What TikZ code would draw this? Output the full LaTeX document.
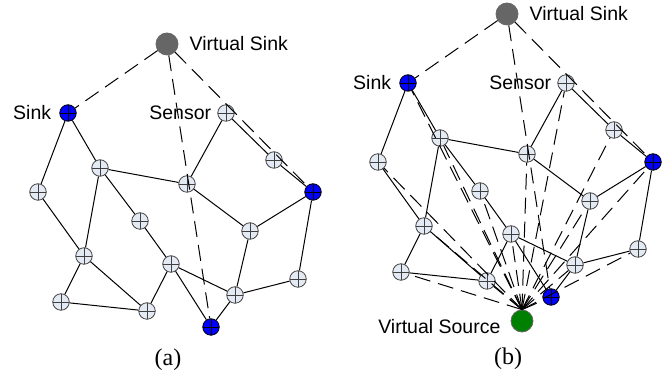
\documentclass[tikz,border=0pt]{standalone}
\usepackage{fontspec}
\setmainfont{Liberation Serif}
\setsansfont{Liberation Sans}
\usetikzlibrary{positioning}
\definecolor{nodefill}{RGB}{228,234,244}
\definecolor{sinkblue}{RGB}{0,0,255}
\definecolor{vsgray}{RGB}{102,102,102}
\definecolor{vsgreen}{RGB}{0,128,0}
\tikzset{
  plus/.style={path picture={\draw[line width=0.9pt]
      (path picture bounding box.north) -- (path picture bounding box.south)
      (path picture bounding box.west) -- (path picture bounding box.east);}},
  sensor/.style={circle,draw=black!75,fill=nodefill,line width=0.8pt,
    minimum size=16.5pt,inner sep=0pt,plus},
  sink/.style={sensor,fill=sinkblue,draw=black},
  virtual/.style={circle,draw=black!60,line width=0.8pt,minimum size=22pt,inner sep=0pt},
  link/.style={line width=1pt},
  vlink/.style={line width=1pt,dash pattern=on 16pt off 8pt},
  lbl/.style={font=\sffamily\fontsize{19.5}{22}\selectfont,inner sep=0pt},
  caption/.style={font=\fontsize{24}{26}\selectfont,inner sep=0pt}
}
\begin{document}
\begin{tikzpicture}[x=1pt,y=1pt]
  \useasboundingbox (0,0) rectangle (672,379);
  % two copies of the same network, (b) is shifted
  \foreach \p/\dx/\dy in {a/0/0,b/340/30}{
    \begin{scope}[shift={(\dx,\dy)},name prefix=\p-]
      \node[virtual,fill=vsgray] (vs) at (167,335) {};
      \node[sink] (s1) at (68,266) {};
      \node[sensor] (se) at (226,266) {};
      \node[sensor] (n2) at (100,211) {};
      \node[sensor] (n3) at (38,187) {};
      \node[sensor] (n4) at (187,195) {};
      \node[sensor] (n5) at (274,219) {};
      \node[sink] (s2) at (313,187) {};
      \node[sensor] (n6) at (140,158) {};
      \node[sensor] (n7) at (250,148) {};
      \node[sensor] (n8) at (84,123) {};
      \node[sensor] (n9) at (171,115) {};
      \node[sensor] (n10) at (298,100) {};
      \node[sensor] (n11) at (235,84) {};
      \node[sensor] (n12) at (61,77) {};
      \node[sensor] (n13) at (147,68) {};
      \node[sink] (s3) at (211,52) {};
      % labels
      \node[lbl,right=11pt of vs] (vs-lbl) {Virtual Sink};
      \node[lbl,left=8pt of s1] (s1-lbl) {Sink};
      \node[lbl,left=6pt of se] (se-lbl) {Sensor};
      % radio links
      \foreach \u/\v in {s1/n3,s1/n2,n2/n4,n2/n8,n2/n6,n3/n8,n4/se,se/n5,
          n5/s2,n4/n7,n7/s2,n6/n9,n8/n12,n8/n13,n12/n13,n9/n13,n9/n11,
          n9/s3,s3/n11,n11/n7,n11/n10,n10/s2}
        \draw[link] (\u) -- (\v);
      % links to the virtual sink
      \foreach \v in {s1,s2,s3}
        \draw[vlink] (vs) -- (\v);
    \end{scope}
  }
  % virtual source of (b)
  \node[virtual,fill=vsgreen] (vsrc) at (522,58) {};
  \node[lbl,left=10pt of vsrc,yshift=-6pt] (vsrc-lbl) {Virtual Source};
  \foreach \v in {s1,se,n2,n3,n4,n5,s2,n6,n7,n8,n9,n10,n11,n12,n13,s3}
    \draw[vlink] (vsrc.north) -- (b-\v);
  % captions
  \node[caption] (cap-a) at (168,19) {(a)};
  \node[caption] (cap-b) at (508,20) {(b)};
\end{tikzpicture}
\end{document}
